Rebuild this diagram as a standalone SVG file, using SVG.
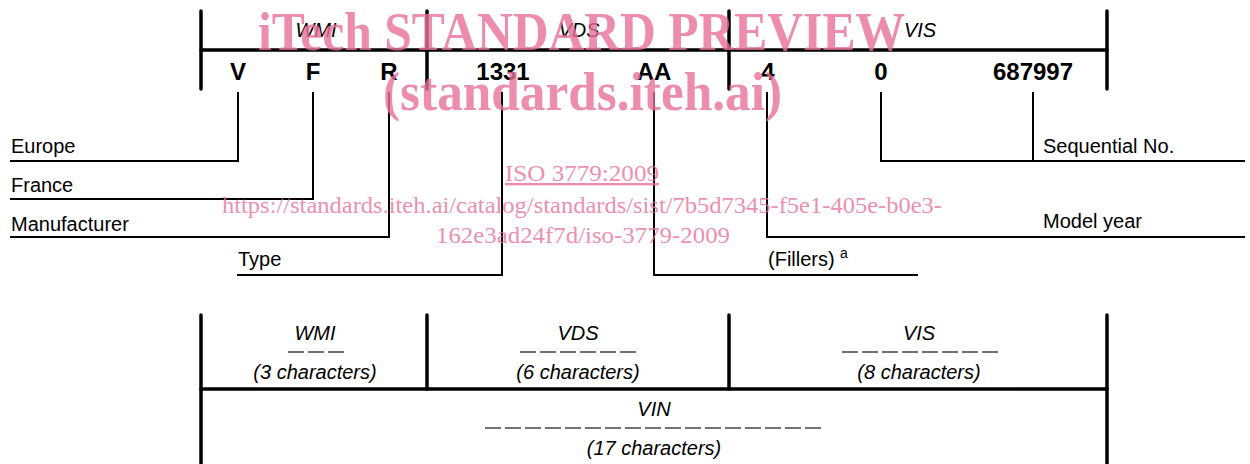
<svg xmlns="http://www.w3.org/2000/svg" width="1250" height="464" viewBox="0 0 1250 464">
<style>
.t{font-family:"Liberation Sans",Arial,sans-serif;fill:#000}
.n{font-size:20px}
.i{font-size:20px;font-style:italic}
.b{font-size:24px;font-weight:bold;text-anchor:middle}
.c{text-anchor:middle}
.thick{stroke:#000;stroke-width:3.5;fill:none;stroke-linecap:round}
.thin{stroke:#000;stroke-width:2;fill:none}
.dash{stroke:#444;stroke-width:1.6;stroke-dasharray:16 4;fill:none}
.wm{font-family:"Liberation Serif","Times New Roman",serif;fill:#e8709a;fill-opacity:0.8}
</style>
<rect width="1250" height="464" fill="#fff"/>
<g id="top-scale">
<line class="thick" x1="201" y1="50" x2="1107" y2="50"/>
<line class="thick" x1="201" y1="11" x2="201" y2="89"/>
<line class="thick" x1="427" y1="11" x2="427" y2="89"/>
<line class="thick" x1="729" y1="11" x2="729" y2="89"/>
<line class="thick" x1="1107" y1="11" x2="1107" y2="89"/>
<text class="t i c" x="316" y="37">WMI</text>
<text class="t i c" x="579" y="37">VDS</text>
<text class="t i c" x="920" y="37">VIS</text>
</g>
<g id="values">
<text class="t b" x="238" y="80">V</text>
<text class="t b" x="313" y="80">F</text>
<text class="t b" x="389" y="80">R</text>
<text class="t b" x="503" y="80">1331</text>
<text class="t b" x="654" y="80">AA</text>
<text class="t b" x="768" y="80">4</text>
<text class="t b" x="881" y="80">0</text>
<text class="t b" x="1033" y="80">687997</text>
</g>
<g id="connectors">
<polyline class="thin" points="238,92 238,161 10,161"/>
<polyline class="thin" points="313,92 313,199 10,199"/>
<polyline class="thin" points="389,92 389,237 10,237"/>
<polyline class="thin" points="502,92 502,275 237,275"/>
<polyline class="thin" points="654,92 654,275 918,275"/>
<polyline class="thin" points="767,92 767,237 1245,237"/>
<polyline class="thin" points="881,92 881,161 1245,161"/>
<line class="thin" x1="1033" y1="92" x2="1033" y2="161"/>
</g>
<g id="label-europe"><text class="t n" x="11" y="153">Europe</text></g>
<g id="label-france"><text class="t n" x="11" y="192">France</text></g>
<g id="label-manufacturer"><text class="t n" x="11" y="231">Manufacturer</text></g>
<g id="label-type"><text class="t n" x="238" y="266">Type</text></g>
<g id="label-fillers"><text class="t n" x="768" y="266">(Fillers)</text><text class="t" x="840" y="258" font-size="14">a</text></g>
<g id="label-model-year"><text class="t n" x="1043" y="228">Model year</text></g>
<g id="label-sequential"><text class="t n" x="1043" y="153">Sequential No.</text></g>
<g id="bottom-scale">
<line class="thick" x1="201" y1="389" x2="1107" y2="389"/>
<line class="thick" x1="201" y1="315" x2="201" y2="466"/>
<line class="thick" x1="427" y1="315" x2="427" y2="389"/>
<line class="thick" x1="729" y1="315" x2="729" y2="389"/>
<line class="thick" x1="1107" y1="315" x2="1107" y2="466"/>
</g>
<g id="wmi-block">
<text class="t i c" x="315" y="340">WMI</text>
<line class="dash" x1="288" y1="352" x2="344" y2="352"/>
<text class="t i c" x="315" y="379">(3 characters)</text>
</g>
<g id="vds-block">
<text class="t i c" x="578" y="340">VDS</text>
<line class="dash" x1="520" y1="352" x2="636" y2="352"/>
<text class="t i c" x="578" y="379">(6 characters)</text>
</g>
<g id="vis-block">
<text class="t i c" x="919" y="340">VIS</text>
<line class="dash" x1="842" y1="352" x2="998" y2="352"/>
<text class="t i c" x="919" y="379">(8 characters)</text>
</g>
<g id="vin-block">
<text class="t i c" x="654" y="416">VIN</text>
<line class="dash" x1="485" y1="428" x2="821" y2="428"/>
<text class="t i c" x="654" y="455">(17 characters)</text>
</g>
<g id="watermark">
<text class="wm" x="258" y="50" font-size="54" font-weight="bold" textLength="647" lengthAdjust="spacingAndGlyphs">iTech STANDARD PREVIEW</text>
<text class="wm" x="383" y="110" font-size="54" font-weight="bold" textLength="399" lengthAdjust="spacingAndGlyphs">(standards.iteh.ai)</text>
<text class="wm" x="505" y="181" font-size="24" textLength="154" lengthAdjust="spacingAndGlyphs" text-decoration="underline">ISO 3779:2009</text>
<text class="wm" x="222" y="213" font-size="24" textLength="720" lengthAdjust="spacingAndGlyphs">https://standards.iteh.ai/catalog/standards/sist/7b5d7345-f5e1-405e-b0e3-</text>
<text class="wm" x="436" y="243" font-size="24" textLength="294" lengthAdjust="spacingAndGlyphs">162e3ad24f7d/iso-3779-2009</text>
</g>
</svg>
